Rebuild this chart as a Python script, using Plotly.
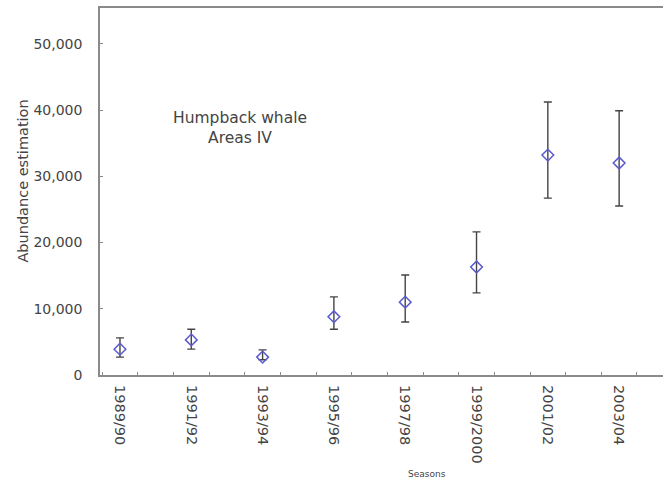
import plotly.graph_objects as go

seasons = ["1989/90", "1991/92", "1993/94", "1995/96", "1997/98", "1999/2000", "2001/02", "2003/04"]
season_start = [1989, 1991, 1993, 1995, 1997, 1999, 2001, 2003]
abundance = [3900, 5300, 2700, 8800, 11000, 16300, 33200, 32000]
upper = [5600, 6900, 3800, 11800, 15100, 21600, 41200, 39900]
lower = [2700, 3900, 2300, 6900, 8000, 12400, 26700, 25500]

err_plus = [u - v for u, v in zip(upper, abundance)]
err_minus = [v - l for v, l in zip(abundance, lower)]

XR = [1988.44, 2004.23]
FONT = "DejaVu Sans, sans-serif"
AXC = "#8a8a8a"
TXT = "#444444"

fig = go.Figure()
fig.add_trace(go.Scatter(
    x=season_start, y=abundance, mode="markers",
    marker=dict(symbol="diamond-open", size=9, color="#5a5ad0", line=dict(width=1.5, color="#5a5ad0")),
    error_y=dict(type="data", symmetric=False, array=err_plus, arrayminus=err_minus,
                 color="#444444", thickness=1.4, width=4),
    showlegend=False, cliponaxis=False,
))
# invisible trace for label axis
fig.add_trace(go.Scatter(x=[XR[0]], y=[0], xaxis="x2", mode="markers",
                         marker=dict(opacity=0), showlegend=False, hoverinfo="skip"))

fig.update_layout(
    width=663, height=486,
    margin=dict(l=100, r=0, t=8, b=111),
    paper_bgcolor="white", plot_bgcolor="white",
    font=dict(family=FONT, color=TXT),
    xaxis=dict(range=XR, showgrid=False, zeroline=False, showline=True, linecolor=AXC, linewidth=1.6,
               mirror=True, ticks="inside", ticklen=3, tickcolor=AXC, tickmode="linear",
               tick0=1989.5, dtick=1, showticklabels=False, automargin=False),
    xaxis2=dict(range=XR, overlaying="x", side="bottom", showgrid=False, zeroline=False,
                showline=False, ticks="", tickmode="array", automargin=False,
                tickvals=season_start, ticktext=seasons, tickangle=90,
                tickfont=dict(size=14.5, color=TXT), ticklabelstandoff=9),
    yaxis=dict(range=[0, 55400], showgrid=False, zeroline=False, showline=True, linecolor=AXC,
               linewidth=1.6, ticks="inside", ticklen=3, tickcolor=AXC, tickmode="linear", tick0=0,
               dtick=10000, tickformat=",", ticklabelstandoff=13, automargin=False,
               tickfont=dict(size=14, color=TXT)),
    annotations=[
        dict(x=0.2487, y=0.673, xref="paper", yref="paper", xanchor="center", yanchor="middle",
             text="Humpback whale<br>Areas IV", showarrow=False,
             font=dict(size=15.5, color=TXT, family=FONT), align="center"),
        dict(x=0, y=0.527, xref="paper", yref="paper", xanchor="center", yanchor="middle",
             xshift=-77, textangle=-90, text="Abundance estimation", showarrow=False,
             font=dict(size=14.5, color=TXT, family=FONT)),
        dict(x=0.581, y=-0.27, xref="paper", yref="paper", xanchor="center", yanchor="middle",
             text="Seasons", showarrow=False, font=dict(size=9, color=TXT, family=FONT)),
    ],
)

fig.write_html("out.html", config={"displayModeBar": False},
               post_script="document.body.style.margin='0';document.body.style.overflow='hidden';")
